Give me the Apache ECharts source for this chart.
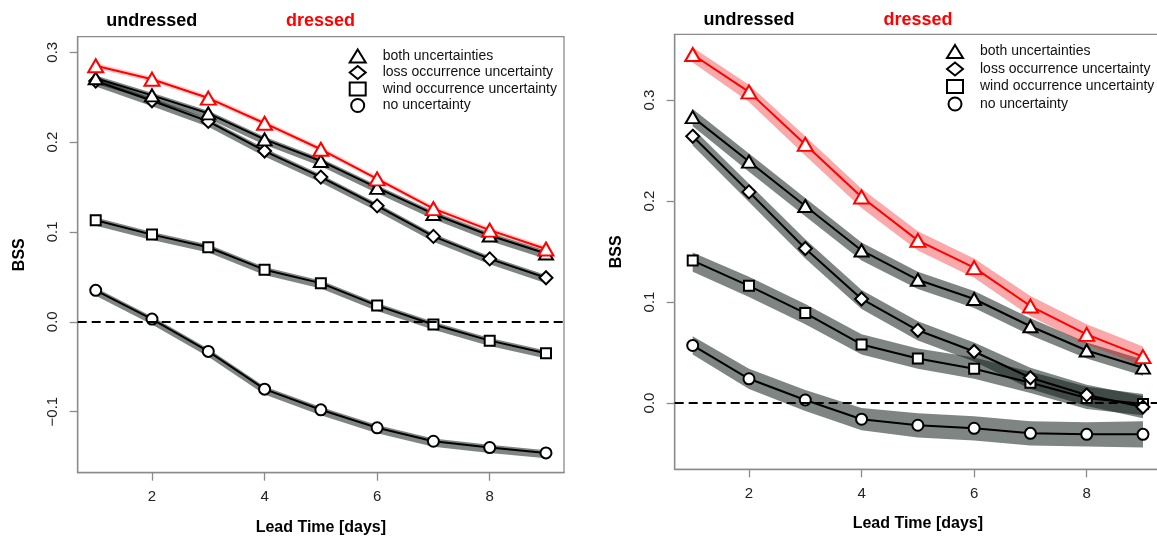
<!DOCTYPE html>
<html>
<head>
<meta charset="utf-8">
<title>BSS vs lead time</title>
<script src="https://cdn.jsdelivr.net/npm/echarts@6/dist/echarts.min.js"></script>
<style>
  html, body { margin: 0; padding: 0; background: #fff; }
  #main { width: 1157px; height: 541px; }
</style>
</head>
<body>
<div id="main"></div>
<script>
// lead time in days (same for both panels)
var days = [1, 2, 3, 4, 5, 6, 7, 8, 9];

// tick labels
var xTicks = [2, 4, 6, 8];
var yTicksL = [-0.1, 0.0, 0.1, 0.2, 0.3];
var yTickTextL = ['\u22120.1', '0.0', '0.1', '0.2', '0.3'];
var yTicksR = [0.0, 0.1, 0.2, 0.3];
var yTickTextR = ['0.0', '0.1', '0.2', '0.3'];

// ---- left panel ----
var L_dressed    = [0.285, 0.270, 0.249, 0.221, 0.192, 0.159, 0.126, 0.102, 0.081];
var L_dressed_lo = [0.282, 0.267, 0.246, 0.218, 0.189, 0.156, 0.123, 0.099, 0.078];
var L_dressed_hi = [0.288, 0.273, 0.252, 0.224, 0.195, 0.162, 0.129, 0.105, 0.084];

var L_both    = [0.271, 0.252, 0.232, 0.203, 0.179, 0.149, 0.120, 0.096, 0.076];
var L_both_lo = [0.265, 0.246, 0.226, 0.197, 0.173, 0.143, 0.114, 0.090, 0.070];
var L_both_hi = [0.274, 0.255, 0.235, 0.206, 0.182, 0.152, 0.123, 0.099, 0.079];

var L_loss    = [0.268, 0.246, 0.223, 0.190, 0.161, 0.129, 0.095, 0.070, 0.049];
var L_loss_lo = [0.262, 0.240, 0.217, 0.184, 0.155, 0.123, 0.089, 0.064, 0.043];
var L_loss_hi = [0.271, 0.249, 0.226, 0.193, 0.164, 0.132, 0.098, 0.073, 0.052];

var L_wind    = [0.113, 0.097, 0.083, 0.058, 0.043, 0.018, -0.003, -0.021, -0.035];
var L_wind_lo = [0.107, 0.091, 0.077, 0.052, 0.037, 0.012, -0.009, -0.027, -0.041];
var L_wind_hi = [0.116, 0.100, 0.086, 0.061, 0.046, 0.021, 0.000, -0.018, -0.032];

var L_none    = [0.035, 0.003, -0.033, -0.075, -0.098, -0.118, -0.133, -0.140, -0.146];
var L_none_lo = [0.029, -0.003, -0.039, -0.081, -0.104, -0.124, -0.139, -0.146, -0.152];
var L_none_hi = [0.038, 0.006, -0.030, -0.072, -0.095, -0.115, -0.130, -0.137, -0.143];

// ---- right panel ----
var R_dressed    = [0.345, 0.308, 0.256, 0.204, 0.161, 0.134, 0.096, 0.068, 0.046];
var R_dressed_lo = [0.337, 0.298, 0.245, 0.193, 0.151, 0.124, 0.086, 0.058, 0.037];
var R_dressed_hi = [0.352, 0.315, 0.264, 0.212, 0.170, 0.143, 0.106, 0.078, 0.056];

var R_both    = [0.283, 0.239, 0.195, 0.151, 0.122, 0.103, 0.076, 0.052, 0.035];
var R_both_lo = [0.274, 0.229, 0.185, 0.141, 0.113, 0.094, 0.067, 0.044, 0.027];
var R_both_hi = [0.291, 0.247, 0.203, 0.159, 0.130, 0.111, 0.084, 0.060, 0.043];

var R_loss    = [0.264, 0.209, 0.153, 0.103, 0.072, 0.051, 0.025, 0.008, -0.004];
var R_loss_lo = [0.255, 0.199, 0.143, 0.093, 0.062, 0.041, 0.014, -0.003, -0.015];
var R_loss_hi = [0.272, 0.217, 0.162, 0.112, 0.081, 0.060, 0.035, 0.018, 0.007];

var R_wind    = [0.141, 0.116, 0.089, 0.058, 0.044, 0.034, 0.020, 0.005, -0.001];
var R_wind_lo = [0.130, 0.105, 0.078, 0.048, 0.034, 0.024, 0.010, -0.006, -0.012];
var R_wind_hi = [0.149, 0.125, 0.098, 0.068, 0.054, 0.045, 0.031, 0.016, 0.009];

var R_none    = [0.057, 0.024, 0.003, -0.016, -0.022, -0.025, -0.030, -0.031, -0.031];
var R_none_lo = [0.048, 0.014, -0.008, -0.027, -0.034, -0.037, -0.042, -0.043, -0.044];
var R_none_hi = [0.066, 0.034, 0.013, -0.005, -0.010, -0.013, -0.018, -0.019, -0.018];

var FONT = '"Liberation Sans", Arial, Helvetica, sans-serif';
var GRAY_BAND = 'rgba(8, 22, 16, 0.52)';
var RED_BAND = 'rgba(240, 30, 30, 0.38)';
var RED_BAND_FAINT = 'rgba(240, 30, 30, 0.22)';

var chart = echarts.init(document.getElementById('main'), null, { renderer: 'canvas' });

function tickText(ticks, texts) {
  return function (v) {
    for (var i = 0; i < ticks.length; i++) {
      if (Math.abs(ticks[i] - v) < 1e-9) return texts[i];
    }
    return '';
  };
}

// shaded band drawn as one polygon through the axis scales
function band(ax, lo, hi, color, z, extra) {
  var s = {
    type: 'custom',
    xAxisIndex: ax, yAxisIndex: ax,
    z: z, silent: true, animation: false,
    data: days.map(function (d, i) { return [d, lo[i], hi[i]]; }),
    encode: { x: 0, y: [1, 2] },
    renderItem: function (params, api) {
      if (params.dataIndex !== 0) return null;
      var pts = [];
      for (var i = 0; i < days.length; i++) pts.push(api.coord([days[i], hi[i]]));
      for (var j = days.length - 1; j >= 0; j--) pts.push(api.coord([days[j], lo[j]]));
      return { type: 'polygon', shape: { points: pts }, style: { fill: color } };
    }
  };
  if (extra) for (var k in extra) s[k] = extra[k];
  return s;
}

function curve(name, ax, values, symbol, size, color, z) {
  return {
    type: 'line', name: name,
    xAxisIndex: ax, yAxisIndex: ax, z: z,
    data: days.map(function (d, i) { return [d, values[i]]; }),
    symbol: symbol, symbolSize: size, showSymbol: true,
    lineStyle: { color: color, width: 2 },
    itemStyle: { color: '#fff', borderColor: color, borderWidth: 2 },
    emphasis: { disabled: true },
    silent: true, animation: false
  };
}

var zeroLine = {
  silent: true,
  symbol: 'none',
  label: { show: false },
  lineStyle: { color: '#000', width: 2.2, type: [9, 5] },
  data: [{ yAxis: 0 }],
  animation: false
};

function xAxisOf(grid, gap) {
  return {
    type: 'value', gridIndex: grid,
    min: 0.68, max: 9.32,
    name: 'Lead Time [days]', nameLocation: 'middle', nameGap: gap,
    nameTextStyle: { fontFamily: FONT, fontWeight: 'bold', fontSize: 16, color: '#000' },
    axisLine: { show: true, onZero: false, lineStyle: { color: '#8a8a8a', width: 1.3 } },
    axisTick: { show: true, length: 8, customValues: xTicks, lineStyle: { color: '#8a8a8a', width: 1.3 } },
    axisLabel: { customValues: xTicks, margin: 17, fontFamily: FONT, fontSize: 15, color: '#222' },
    splitLine: { show: false }
  };
}

function yAxisOf(grid, min, max, ticks, texts) {
  return {
    type: 'value', gridIndex: grid,
    min: min, max: max,
    name: 'BSS', nameLocation: 'middle', nameGap: 50, nameRotate: 90,
    nameTextStyle: { fontFamily: FONT, fontWeight: 'bold', fontSize: 16, color: '#000' },
    axisLine: { show: true, lineStyle: { color: '#8a8a8a', width: 1.3 } },
    axisTick: { show: true, length: 8, customValues: ticks, lineStyle: { color: '#8a8a8a', width: 1.3 } },
    axisLabel: {
      customValues: ticks, rotate: 90, margin: 17,
      fontFamily: FONT, fontSize: 15, color: '#222',
      formatter: tickText(ticks, texts)
    },
    splitLine: { show: false }
  };
}

function legendAt(left, top, gap) {
  return {
    orient: 'vertical', left: left, top: top, padding: 0,
    itemWidth: 16, itemHeight: 13, itemGap: gap,
    selectedMode: false,
    itemStyle: { color: '#fff', borderColor: '#000', borderWidth: 2 },
    textStyle: { fontFamily: FONT, fontSize: 14, color: '#111', padding: [0, 0, 0, 12] },
    data: [
      { name: 'both uncertainties', icon: 'triangle' },
      { name: 'loss occurrence uncertainty', icon: 'diamond' },
      { name: 'wind occurrence uncertainty', icon: 'rect' },
      { name: 'no uncertainty', icon: 'circle' }
    ]
  };
}

function headText(x, y, text, color) {
  return {
    type: 'text', x: x, y: y, silent: true,
    style: { text: text, fill: color, font: 'bold 18px ' + FONT, align: 'center', verticalAlign: 'middle' }
  };
}

var option = {
  backgroundColor: '#fff',
  animation: false,
  grid: [
    { left: 77.7, top: 36.7, width: 486.3, height: 436, outerBoundsMode: 'none', containLabel: false,
      show: true, borderColor: '#8a8a8a', borderWidth: 1.3, backgroundColor: 'transparent' },
    { left: 674.7, top: 34.3, width: 486.3, height: 435, outerBoundsMode: 'none', containLabel: false,
      show: true, borderColor: '#8a8a8a', borderWidth: 1.3, backgroundColor: 'transparent' }
  ],
  xAxis: [xAxisOf(0, 47), xAxisOf(1, 46)],
  yAxis: [
    yAxisOf(0, -0.168, 0.3173, yTicksL, yTickTextL),
    yAxisOf(1, -0.0656, 0.365, yTicksR, yTickTextR)
  ],
  legend: [legendAt(348.7, 48.5, 1.5), legendAt(946, 44, 2.5)],
  graphic: [
    headText(151.7, 21, 'undressed', '#000'),
    headText(320.6, 21, 'dressed', '#ff0000'),
    headText(749, 20, 'undressed', '#000'),
    headText(918, 20, 'dressed', '#ff0000')
  ],
  series: [
    // left panel bands
    band(0, L_none_lo, L_none_hi, GRAY_BAND, 1),
    band(0, L_wind_lo, L_wind_hi, GRAY_BAND, 1),
    band(0, L_loss_lo, L_loss_hi, GRAY_BAND, 1),
    band(0, L_both_lo, L_both_hi, GRAY_BAND, 1),
    band(0, L_dressed_lo, L_dressed_hi, RED_BAND_FAINT, 2, { markLine: zeroLine }),
    // right panel bands
    band(1, R_none_lo, R_none_hi, GRAY_BAND, 1),
    band(1, R_wind_lo, R_wind_hi, GRAY_BAND, 1),
    band(1, R_loss_lo, R_loss_hi, GRAY_BAND, 1),
    band(1, R_both_lo, R_both_hi, GRAY_BAND, 1),
    band(1, R_dressed_lo, R_dressed_hi, RED_BAND, 2, { markLine: zeroLine }),
    // left panel curves
    curve('no uncertainty', 0, L_none, 'circle', 11, '#000', 3),
    curve('wind occurrence uncertainty', 0, L_wind, 'rect', 10, '#000', 3),
    curve('loss occurrence uncertainty', 0, L_loss, 'diamond', [13, 13], '#000', 3),
    curve('both uncertainties', 0, L_both, 'triangle', [14, 12], '#000', 3),
    curve('dressed both uncertainties', 0, L_dressed, 'triangle', [15, 13], '#ff0000', 4),
    // right panel curves
    curve('no uncertainty', 1, R_none, 'circle', 11, '#000', 3),
    curve('wind occurrence uncertainty', 1, R_wind, 'rect', 10, '#000', 3),
    curve('loss occurrence uncertainty', 1, R_loss, 'diamond', [13, 13], '#000', 3),
    curve('both uncertainties', 1, R_both, 'triangle', [14, 12], '#000', 3),
    curve('dressed both uncertainties', 1, R_dressed, 'triangle', [15, 13], '#ff0000', 4)
  ]
};

chart.setOption(option);
</script>
</body>
</html>
